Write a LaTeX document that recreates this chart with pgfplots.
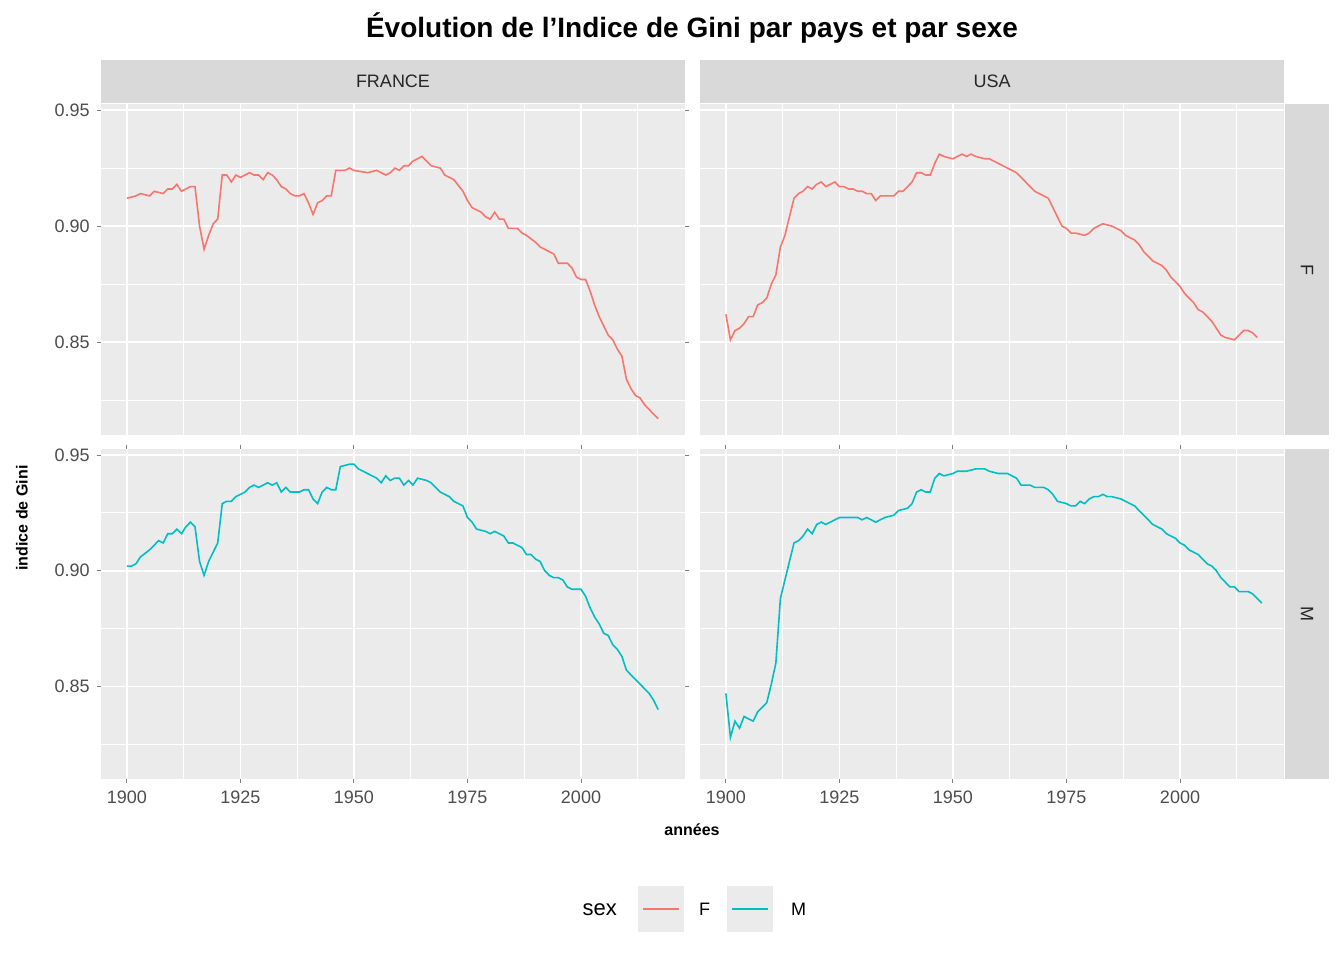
\documentclass[border=0pt]{standalone}
\usepackage{pgfplots}
\pgfplotsset{compat=1.18}
\usepackage{pgfplotstable}
\usepackage{fontspec}
\setmainfont{Liberation Sans}
\definecolor{cF}{HTML}{F8766D}
\definecolor{cM}{HTML}{00BFC4}
\definecolor{panel}{HTML}{EBEBEB}
\definecolor{strip}{HTML}{D9D9D9}
\definecolor{tick}{HTML}{4D4D4D}
\pgfplotstableread{
x y
1900 .912
1902 .913
1903 .914
1905 .913
1906 .915
1908 .914
1909 .916
1910 .916
1911 .918
1912 .915
1914 .917
1915 .917
1916 .900
1917 .890
1918 .896
1919 .901
1920 .903
1921 .922
1922 .922
1923 .919
1924 .922
1925 .921
1927 .923
1928 .922
1929 .922
1930 .920
1931 .923
1932 .922
1933 .920
1934 .917
1935 .916
1936 .914
1937 .913
1938 .913
1939 .914
1940 .910
1941 .905
1942 .910
1943 .911
1944 .913
1945 .913
1946 .924
1948 .924
1949 .925
1950 .924
1953 .923
1955 .924
1957 .922
1958 .923
1959 .925
1960 .924
1961 .926
1962 .926
1963 .928
1965 .930
1966 .928
1967 .926
1969 .925
1970 .922
1972 .920
1974 .915
1975 .911
1976 .908
1978 .906
1979 .904
1980 .903
1981 .906
1982 .903
1983 .903
1984 .899
1986 .899
1987 .897
1988 .896
1990 .893
1991 .891
1993 .889
1994 .888
1995 .884
1997 .884
1998 .882
1999 .878
2000 .877
2001 .877
2002 .872
2003 .866
2004 .861
2005 .857
2006 .853
2007 .851
2008 .847
2009 .844
2010 .834
2011 .830
2012 .827
2013 .826
2014 .823
2015 .821
2016 .819
2017 .817
}\frF
\pgfplotstableread{
x y
1900 .902
1901 .902
1902 .903
1903 .906
1905 .909
1906 .911
1907 .913
1908 .912
1909 .916
1910 .916
1911 .918
1912 .916
1913 .919
1914 .921
1915 .919
1916 .904
1917 .898
1918 .904
1919 .908
1920 .912
1921 .929
1922 .930
1923 .930
1924 .932
1925 .933
1926 .934
1927 .936
1928 .937
1929 .936
1930 .937
1931 .938
1932 .937
1933 .938
1934 .934
1935 .936
1936 .934
1937 .934
1938 .934
1939 .935
1940 .935
1941 .931
1942 .929
1943 .934
1944 .936
1945 .935
1946 .935
1947 .945
1949 .946
1950 .946
1951 .944
1952 .943
1953 .942
1954 .941
1955 .940
1956 .938
1957 .941
1958 .939
1959 .940
1960 .940
1961 .937
1962 .939
1963 .937
1964 .940
1966 .939
1967 .938
1968 .936
1969 .934
1970 .933
1971 .932
1972 .930
1973 .929
1974 .928
1975 .923
1976 .921
1977 .918
1979 .917
1980 .916
1981 .917
1982 .916
1983 .915
1984 .912
1985 .912
1986 .911
1987 .910
1988 .907
1989 .907
1990 .905
1991 .904
1992 .900
1993 .898
1994 .897
1995 .897
1996 .896
1997 .893
1998 .892
1999 .892
2000 .892
2001 .889
2002 .884
2003 .880
2004 .877
2005 .873
2006 .872
2007 .868
2008 .866
2009 .863
2010 .857
2011 .855
2012 .853
2013 .851
2014 .849
2015 .847
2016 .844
2017 .840
}\frM
\pgfplotstableread{
x y
1900 .862
1901 .851
1902 .855
1903 .856
1904 .858
1905 .861
1906 .861
1907 .866
1908 .867
1909 .869
1910 .875
1911 .879
1912 .891
1913 .896
1914 .904
1915 .912
1916 .914
1917 .915
1918 .917
1919 .916
1920 .918
1921 .919
1922 .917
1923 .918
1924 .919
1925 .917
1926 .917
1927 .916
1928 .916
1929 .915
1930 .915
1931 .914
1932 .914
1933 .911
1934 .913
1935 .913
1937 .913
1938 .915
1939 .915
1940 .917
1941 .919
1942 .923
1943 .923
1944 .922
1945 .922
1946 .927
1947 .931
1948 .930
1950 .929
1951 .930
1952 .931
1953 .930
1954 .931
1955 .930
1957 .929
1958 .929
1959 .928
1960 .927
1961 .926
1963 .924
1964 .923
1965 .921
1966 .919
1967 .917
1968 .915
1969 .914
1970 .913
1971 .912
1972 .908
1973 .904
1974 .900
1975 .899
1976 .897
1977 .897
1979 .896
1980 .897
1981 .899
1982 .900
1983 .901
1985 .900
1986 .899
1987 .898
1988 .896
1990 .894
1991 .892
1992 .889
1993 .887
1994 .885
1996 .883
1997 .881
1998 .878
1999 .876
2000 .874
2001 .871
2002 .869
2003 .867
2004 .864
2005 .863
2006 .861
2007 .859
2008 .856
2009 .853
2010 .852
2012 .851
2013 .853
2014 .855
2015 .855
2016 .854
2017 .852
}\usF
\pgfplotstableread{
x y
1900 .847
1901 .828
1902 .835
1903 .832
1904 .837
1905 .836
1906 .835
1907 .839
1908 .841
1909 .843
1910 .851
1911 .860
1912 .888
1913 .896
1914 .904
1915 .912
1916 .913
1917 .915
1918 .918
1919 .916
1920 .920
1921 .921
1922 .920
1923 .921
1924 .922
1925 .923
1927 .923
1929 .923
1930 .922
1931 .923
1932 .922
1933 .921
1934 .922
1935 .923
1937 .924
1938 .926
1940 .927
1941 .929
1942 .934
1943 .935
1944 .934
1945 .934
1946 .940
1947 .942
1948 .941
1950 .942
1951 .943
1953 .943
1955 .944
1957 .944
1958 .943
1960 .942
1962 .942
1963 .941
1964 .940
1965 .937
1967 .937
1968 .936
1970 .936
1971 .935
1972 .933
1973 .930
1975 .929
1976 .928
1977 .928
1978 .930
1979 .929
1980 .931
1981 .932
1982 .932
1983 .933
1984 .932
1985 .932
1987 .931
1988 .930
1989 .929
1990 .928
1991 .926
1992 .924
1993 .922
1994 .920
1996 .918
1997 .916
1999 .914
2000 .912
2001 .911
2002 .909
2003 .908
2004 .907
2005 .905
2006 .903
2007 .902
2008 .900
2009 .897
2010 .895
2011 .893
2012 .893
2013 .891
2015 .891
2016 .890
2017 .888
2018 .886
}\usM
\pgfplotsset{
 facet/.style={
  anchor=south west, scale only axis, width=292pt,
  xmin=1894.3, xmax=2022.9, ymin=0.81, ymax=0.9526,
  axis background/.style={fill=panel},
  axis line style={draw=none},
  xtick={1900,1925,1950,1975,2000},
  ytick={0.85,0.90,0.95},
  minor xtick={1912.5,1937.5,1962.5,1987.5,2012.5},
  minor ytick={0.825,0.875,0.925},
  grid=both,
  major grid style={white, line width=0.9pt},
  minor grid style={white, line width=0.45pt},
  tick align=outside, major tick length=2.2pt, minor tick length=0pt,
  tick style={tick, line width=0.5pt},
  ticklabel style={font=\fontsize{9}{10}\selectfont, text=tick},
  /pgf/number format/assume math mode=true,
  yticklabel style={/pgf/number format/.cd, fixed, fixed zerofill, precision=2},
  xticklabel style={/pgf/number format/.cd, set thousands separator={}},
  scaled y ticks=false,
  clip=true,
 },
 nox/.style={xticklabels={}, xtick style={draw=none}},
 noy/.style={yticklabels={}, ytick style={draw=none}},
}
\begin{document}
\begin{tikzpicture}
\path (0pt,0pt) rectangle (672pt,480pt);
\node[font=\bfseries\fontsize{14}{16}\selectfont] at (346pt,466pt) {Évolution de l'Indice de Gini par pays et par sexe};
\fill[strip] (50.5pt,428.5pt) rectangle (342.5pt,450pt);
\fill[strip] (350pt,428.5pt) rectangle (642pt,450pt);
\fill[strip] (642.5pt,262.5pt) rectangle (664.5pt,428pt);
\fill[strip] (642.5pt,90.5pt) rectangle (664.5pt,255.5pt);
\node[font=\fontsize{9}{10}\selectfont, text=black!85] at (196.5pt,439.2pt) {FRANCE};
\node[font=\fontsize{9}{10}\selectfont, text=black!85] at (496pt,439.2pt) {USA};
\node[font=\fontsize{9}{10}\selectfont, text=black!85, rotate=-90] at (653.5pt,345.2pt) {F};
\node[font=\fontsize{9}{10}\selectfont, text=black!85, rotate=-90] at (653.5pt,173pt) {M};
\begin{axis}[facet, nox, at={(50.5pt,262.5pt)}, height=165.5pt]
\addplot[cF, line width=0.8pt] table[x=x,y=y] {\frF};
\end{axis}
\begin{axis}[facet, nox, noy, at={(350pt,262.5pt)}, height=165.5pt]
\addplot[cF, line width=0.8pt] table[x=x,y=y] {\usF};
\end{axis}
\begin{axis}[facet, at={(50.5pt,90.5pt)}, height=165pt]
\addplot[cM, line width=0.8pt] table[x=x,y=y] {\frM};
\end{axis}
\begin{axis}[facet, noy, at={(350pt,90.5pt)}, height=165pt]
\addplot[cM, line width=0.8pt] table[x=x,y=y] {\usM};
\end{axis}
\node[font=\bfseries\fontsize{8}{9}\selectfont] at (346pt,65pt) {années};
\node[font=\bfseries\fontsize{8}{9}\selectfont, rotate=90] at (11pt,221pt) {indice de Gini};
\node[font=\fontsize{11}{12}\selectfont, anchor=east] at (312pt,25pt) {sex};
\fill[panel] (319pt,14pt) rectangle (342pt,37pt);
\draw[cF, line width=0.8pt] (321.5pt,25.5pt) -- (339.5pt,25.5pt);
\node[font=\fontsize{9}{10}\selectfont, anchor=west] at (346pt,25.5pt) {F};
\fill[panel] (363.5pt,14pt) rectangle (386.5pt,37pt);
\draw[cM, line width=0.8pt] (366pt,25.5pt) -- (384pt,25.5pt);
\node[font=\fontsize{9}{10}\selectfont, anchor=west] at (392pt,25.5pt) {M};
\end{tikzpicture}
\end{document}
